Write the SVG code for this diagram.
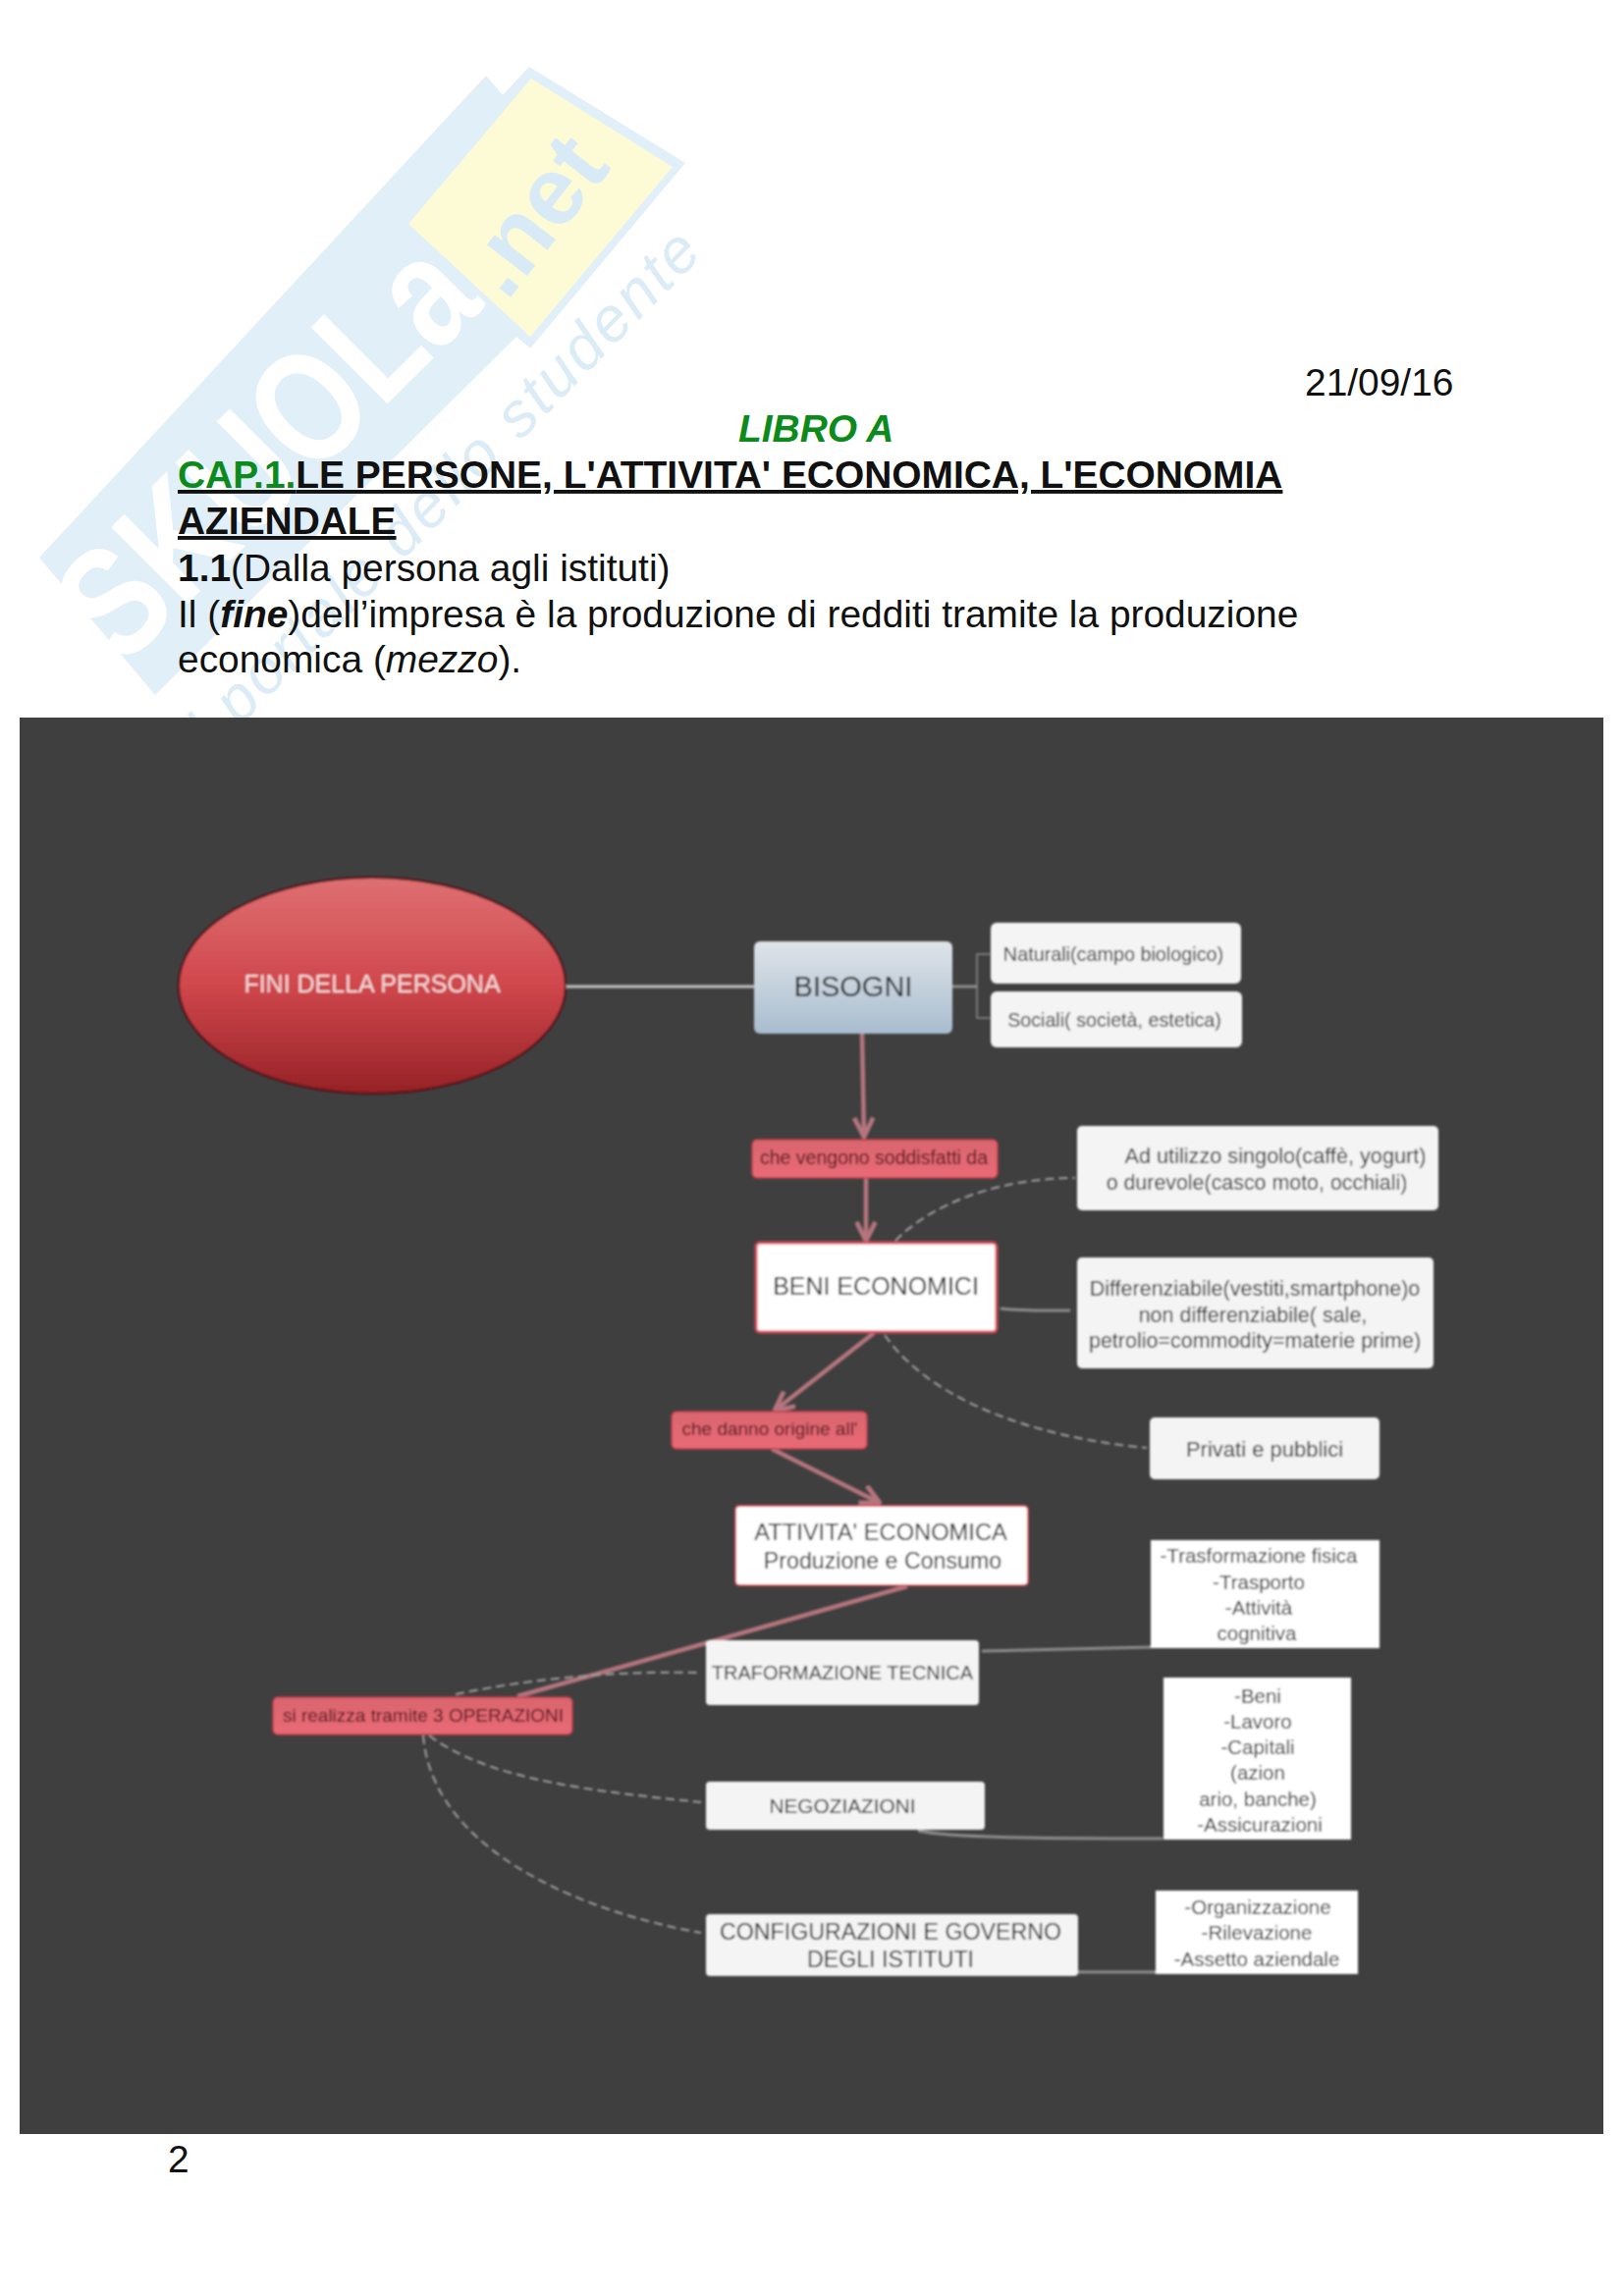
<svg xmlns="http://www.w3.org/2000/svg" width="1653" height="2339" viewBox="0 0 1653 2339">
<style>
.page{font-family:"Liberation Sans",Arial,sans-serif;font-size:38.9px;fill:#111}
.b{font-weight:700}
.u{text-decoration:underline}
.g{fill:#0d8a1c}
.n{font-family:"Liberation Sans",Arial,sans-serif;text-anchor:middle;fill:#222}
.s{font-size:20.5px}
.m{font-size:22px}
.r{fill:#4a0c12;font-size:19px}
.w{fill:#f4f4f4}
.p{fill:#fff}
.red{stroke:#c23a47;stroke-width:1.5}
.lt{fill:none;stroke:#8d8d8d;stroke-width:3}
.da{fill:none;stroke:#a0a0a0;stroke-width:2;stroke-dasharray:9 5}
.ar{fill:none;stroke:#b5747e;stroke-width:4.5;marker-end:url(#ah)}
.wm{font-family:"Liberation Sans",Arial,sans-serif}
</style>
<defs>
<linearGradient id="el" x1="0" y1="0" x2="0" y2="1"><stop offset="0" stop-color="#df7072"/><stop offset=".5" stop-color="#cf474c"/><stop offset="1" stop-color="#962226"/></linearGradient>
<linearGradient id="bi" x1="0" y1="0" x2="0" y2="1"><stop offset="0" stop-color="#dfe4e9"/><stop offset="1" stop-color="#a9bdcf"/></linearGradient>
<linearGradient id="re" x1="0" y1="0" x2="0" y2="1"><stop offset="0" stop-color="#d9656e"/><stop offset="1" stop-color="#e96a76"/></linearGradient>
<marker id="ah" viewBox="0 0 14 14" refX="13" refY="7" markerWidth="5" markerHeight="5" orient="auto" markerUnits="strokeWidth"><path d="M1 1L13 7L1 13" fill="none" stroke="#b5747e" stroke-width="3"/></marker>
<filter id="bl" x="-5%" y="-5%" width="110%" height="110%"><feGaussianBlur stdDeviation="0.8"/></filter>
</defs>
<rect width="1653" height="2339" fill="#fff"/>
<g id="watermark">
<polygon points="40,568 495,77 512,97 539,68 698,166 540,355 526,343 158,708" fill="#e1eff8"/>
<polygon points="541,80 685,170 540,343 416,228" fill="#fdfbd6"/>
<text class="wm" transform="translate(124,682) rotate(-45)" font-weight="700" font-size="160" fill="#fff" textLength="525" lengthAdjust="spacingAndGlyphs">SKUOLa</text>
<text class="wm" transform="translate(516,308) rotate(-52)" font-weight="700" font-size="98" fill="#d8eaf5">.net</text>
<text class="wm" transform="translate(205,780) rotate(-45.5)" font-style="italic" font-size="64" fill="#dcecf6" textLength="730">il portale dello studente</text>
</g>
<g id="page-text">
<text class="page" x="1329" y="403">21/09/16</text>
<text class="page b g" x="752" y="450" font-style="italic">LIBRO A</text>
<text class="page b u" x="181" y="497"><tspan class="g">CAP.1.</tspan>LE PERSONE, L'ATTIVITA' ECONOMICA, L'ECONOMIA</text>
<text class="page b u" x="181" y="544">AZIENDALE</text>
<text class="page" x="181" y="592"><tspan class="b">1.1</tspan>(Dalla persona agli istituti)</text>
<text class="page" x="181" y="639">Il (<tspan class="b" font-style="italic">fine</tspan>)dell’impresa è la produzione di redditi tramite la produzione</text>
<text class="page" x="181" y="685">economica (<tspan font-style="italic">mezzo</tspan>).</text>
<text class="page" x="171" y="2213">2</text>
</g>
<rect id="panel" x="20" y="731" width="1613" height="1443" fill="#3f3f3f"/>
<g filter="url(#bl)">
<g id="connectors">
<path class="lt" style="stroke:#c4c4c4" d="M576 1005H768"/>
<path class="lt" d="M970 1005H995"/>
<path class="lt" style="stroke-width:1.5" d="M1008 972H995V1037H1008"/>
<path class="ar" d="M878 1053L880 1158"/>
<path class="ar" d="M882 1200V1264"/>
<path class="ar" d="M890 1358L789 1437"/>
<path class="ar" d="M786 1476L896 1531"/>
<path class="ar" style="marker-end:none" d="M924 1616L527 1728"/>
<path class="da" d="M912 1264C950 1225 1020 1200 1095 1200"/>
<path class="lt" d="M1019 1333C1045 1336 1065 1335 1090 1335"/>
<path class="da" d="M901 1360C950 1430 1060 1465 1168 1475"/>
<path class="da" d="M464 1726C550 1708 640 1702 714 1704"/>
<path class="da" d="M437 1768C500 1815 610 1825 714 1836"/>
<path class="da" d="M431 1768C440 1880 580 1945 714 1969"/>
<path class="lt" d="M1000 1682L1172 1678"/>
<path class="lt" d="M935 1865C970 1873 1100 1873 1184 1873"/>
<path class="lt" d="M1098 2009H1177"/>
</g>
<g id="fini"><ellipse cx="379" cy="1004" rx="197" ry="110" fill="url(#el)" stroke="#5a1015" stroke-width="2"/><text class="n" font-size="25" x="379" y="1011" style="fill:#f3dcdc">FINI DELLA PERSONA</text></g>
<g id="bisogni"><rect x="768" y="959" width="202" height="94" rx="6" fill="url(#bi)"/><text class="n" font-size="29" x="869" y="1015">BISOGNI</text></g>
<g id="naturali"><rect class="w" x="1009" y="940" width="255" height="62" rx="6"/><text class="n" font-size="19.8" x="1134" y="979">Naturali(campo biologico)</text></g>
<g id="sociali"><rect class="w" x="1009" y="1010" width="256" height="57" rx="6"/><text class="n" font-size="19.7" x="1135" y="1046">Sociali( società, estetica)</text></g>
<g id="vengono"><rect class="red" x="766" y="1161" width="250" height="39" rx="5" fill="url(#re)"/><text class="n r" style="font-size:19.5px" x="890" y="1186">che vengono soddisfatti da</text></g>
<g id="utilizzo"><rect class="w" x="1097" y="1147" width="368" height="86" rx="5"/><text class="n" font-size="21.7" x="1299" y="1185">Ad utilizzo singolo(caffè, yogurt)</text><text class="n" font-size="21.4" x="1280" y="1212">o durevole(casco moto, occhiali)</text></g>
<g id="beni"><rect class="p" x="770" y="1266" width="245" height="91" rx="4" stroke="#d94a57" stroke-width="3"/><text class="n" font-size="25" x="892" y="1319">BENI ECONOMICI</text></g>
<g id="differenziabile"><rect class="w" x="1097" y="1281" width="363" height="113" rx="5"/><text class="n" font-size="21.5" x="1278" y="1320">Differenziabile(vestiti,smartphone)o</text><text class="n" font-size="21.5" x="1276" y="1347">non differenziabile( sale,</text><text class="n" font-size="21.5" x="1278" y="1373">petrolio=commodity=materie prime)</text></g>
<g id="danno"><rect class="red" x="684" y="1438" width="199" height="38" rx="5" fill="url(#re)"/><text class="n r" x="784" y="1462">che danno origine all'</text></g>
<g id="privati"><rect class="w" x="1171" y="1444" width="234" height="63" rx="5"/><text class="n m" x="1288" y="1484">Privati e pubblici</text></g>
<g id="attivita"><rect class="p" x="749" y="1534" width="298" height="81" rx="4" stroke="#d94a57" stroke-width="2"/><text class="n" font-size="23.7" x="897" y="1569">ATTIVITA' ECONOMICA</text><text class="n" font-size="23.2" x="899" y="1598">Produzione e Consumo</text></g>
<g id="trasformazione"><rect class="w" x="719" y="1671" width="278" height="66" rx="4"/><text class="n" font-size="20" x="858" y="1711">TRAFORMAZIONE TECNICA</text></g>
<g id="realizza"><rect class="red" x="278" y="1729" width="305" height="38" rx="5" fill="url(#re)"/><text class="n r" x="431" y="1754">si realizza tramite 3 OPERAZIONI</text></g>
<g id="negoziazioni"><rect class="w" x="719" y="1815" width="284" height="49" rx="4"/><text class="n" font-size="20.8" x="858" y="1847">NEGOZIAZIONI</text></g>
<g id="configurazioni"><rect class="w" x="719" y="1950" width="379" height="63" rx="4"/><text class="n" font-size="23.2" x="907" y="1976">CONFIGURAZIONI E GOVERNO</text><text class="n" font-size="23.2" x="907" y="2004">DEGLI ISTITUTI</text></g>
<g id="box-trasf"><rect class="p" x="1172" y="1569" width="233" height="110"/><text class="n s" x="1282" y="1592">-Trasformazione fisica</text><text class="n s" x="1282" y="1619">-Trasporto</text><text class="n s" x="1282" y="1645">-Attività</text><text class="n s" x="1280" y="1671">cognitiva</text></g>
<g id="box-beni"><rect class="p" x="1185" y="1709" width="191" height="165"/><text class="n s" x="1281" y="1735">-Beni</text><text class="n s" x="1281" y="1761">-Lavoro</text><text class="n s" x="1281" y="1787">-Capitali</text><text class="n s" x="1281" y="1813">(azion</text><text class="n s" x="1281" y="1840">ario, banche)</text><text class="n s" x="1283" y="1866">-Assicurazioni</text></g>
<g id="box-org"><rect class="p" x="1177" y="1926" width="206" height="85"/><text class="n s" x="1281" y="1950">-Organizzazione</text><text class="n s" x="1280" y="1976">-Rilevazione</text><text class="n s" x="1280" y="2003">-Assetto aziendale</text></g>
</g>
</svg>
